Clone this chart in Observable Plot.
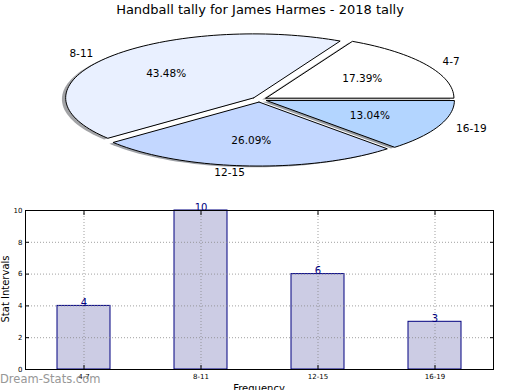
<!DOCTYPE html>
<html><head><meta charset="utf-8">
<script src="https://cdn.jsdelivr.net/npm/d3@7"></script>
<script src="https://cdn.jsdelivr.net/npm/@observablehq/plot@0.6"></script>
<style>
body{margin:0;background:#fff;width:520px;height:390px;position:relative;overflow:hidden;font-family:"DejaVu Sans",sans-serif;color:#000}
#title{position:absolute;top:2px;left:0;width:520px;text-align:center;font-size:13px}
#pie{position:absolute;top:0;left:0}
#bar{position:absolute;top:195px;left:0}
#ylab{position:absolute;left:5px;top:289px;font-size:10px;transform:translate(-50%,-50%) rotate(-90deg);white-space:nowrap}
#xlab{position:absolute;left:259px;top:383px;font-size:10px;transform:translateX(-50%);white-space:nowrap}
#wm{position:absolute;left:0;top:372px;font-size:11.5px;color:#8c8c8c;white-space:nowrap;font-weight:normal;opacity:0.9}
</style></head>
<body>
<div id="pie"></div>
<div id="title">Handball tally for James Harmes - 2018 tally</div>
<div id="bar"></div>
<div id="ylab">Stat Intervals</div>
<div id="xlab">Frequency</div>
<div id="wm">Dream-Stats.com</div>
<script>
const categories = ["4-7", "8-11", "12-15", "16-19"];
const counts = [4, 10, 6, 3];
const sliceColors = ["#ffffff", "#e9f0ff", "#c3d7ff", "#b3d5ff"];
const explode = [0.04, 0.04, 0.04, 0.04];
const yTicks = [0, 2, 4, 6, 8, 10];
const gridTicks = [2, 4, 6, 8];

const total = d3.sum(counts);
// pie geometry in unit-radius coordinates (counterclockwise from east, like matplotlib)
let start = 0;
const slices = categories.map((cat, i) => {
  const a0 = start, a1 = start + counts[i] / total * 2 * Math.PI;
  start = a1;
  const mid = (a0 + a1) / 2;
  const ox = explode[i] * Math.cos(mid), oy = explode[i] * Math.sin(mid);
  const n = Math.max(4, Math.ceil((a1 - a0) / (Math.PI / 90)));
  const pts = [{x: ox, y: oy}];
  for (let k = 0; k <= n; ++k) {
    const a = a0 + (a1 - a0) * k / n;
    pts.push({x: ox + Math.cos(a), y: oy + Math.sin(a)});
  }
  pts.push({x: ox, y: oy});
  return {cat, i, mid, ox, oy, pts, pct: (counts[i] / total * 100).toFixed(2) + "%"};
});

const shadowMarks = slices.map(s => {
  const c = d3.rgb(sliceColors[s.i]);
  const sc = d3.rgb(c.r * 0.3, c.g * 0.3, c.b * 0.3).formatHex();
  return Plot.line(s.pts, {x: d => d.x - 0.02, y: d => d.y - 0.02, fill: sc, fillOpacity: 0.5, stroke: "none"});
});
const wedgeMarks = slices.map(s =>
  Plot.line(s.pts, {x: "x", y: "y", fill: sliceColors[s.i], stroke: "black", strokeWidth: 1, strokeLinejoin: "miter"})
);
const labels = slices.map(s => ({
  cat: s.cat, pct: s.pct,
  lx: s.ox + 1.1 * Math.cos(s.mid), ly: s.oy + 1.1 * Math.sin(s.mid),
  px: s.ox + 0.6 * Math.cos(s.mid), py: s.oy + 0.6 * Math.sin(s.mid)
}));

const pie = Plot.plot({
  width: 520, height: 195,
  margin: 0,
  x: {domain: [-1, 1], range: [71, 447], axis: null},
  y: {domain: [-1, 1], range: [163, 35], axis: null},
  style: {fontFamily: "DejaVu Sans", fontSize: "10.5px", background: "white"},
  marks: [
    ...shadowMarks,
    ...wedgeMarks,
    Plot.text(labels.filter(d => d.lx > 0), {x: "lx", y: "ly", text: "cat", textAnchor: "start", fontSize: 10.5, fill: "black"}),
    Plot.text(labels.filter(d => d.lx <= 0), {x: "lx", y: "ly", text: "cat", textAnchor: "end", fontSize: 10.5, fill: "black"}),
    Plot.text(labels, {x: "px", y: "py", text: "pct", textAnchor: "middle", fontSize: 10.5, fill: "black"})
  ]
});
document.getElementById("pie").appendChild(pie);

const barData = categories.map((cat, i) => ({cat, count: counts[i]}));
const bar = Plot.plot({
  width: 520, height: 195,
  marginLeft: 25, marginRight: 27, marginTop: 15, marginBottom: 21,
  x: {type: "band", domain: categories, paddingInner: 0.55, paddingOuter: 0.275},
  y: {domain: [0, 10]},
  style: {fontFamily: "DejaVu Sans", background: "transparent"},
  marks: [
    Plot.barY(barData, {x: "cat", y: "count", fill: "#cccce4", stroke: "#000080", strokeWidth: 1}),
    Plot.gridY(gridTicks, {stroke: "#888", strokeOpacity: 0.8, strokeDasharray: "1,2"}),
    Plot.gridX({stroke: "#888", strokeOpacity: 0.8, strokeDasharray: "1,2"}),
    Plot.text(barData, {x: "cat", y: "count", text: d => String(d.count), lineAnchor: "bottom", dy: 0, fill: "#000080", fontSize: 10}),
    Plot.frame({stroke: "black", strokeWidth: 1}),
    Plot.axisY(yTicks, {tickSize: 0, tickPadding: 3, fontSize: 7, label: null, fill: "black"}),
    Plot.axisY(yTicks, {tickSize: 4, dx: 4, fill: "none", label: null, stroke: "black"}),
    Plot.axisY(yTicks, {anchor: "right", tickSize: 4, dx: -4, fill: "none", label: null, stroke: "black"}),
    Plot.axisX({tickSize: 0, tickPadding: 5, fontSize: 7, label: null, fill: "black"}),
    Plot.axisX({tickSize: 4, dy: -4, fill: "none", label: null, stroke: "black"}),
    Plot.axisX({anchor: "top", tickSize: 4, dy: 4, fill: "none", label: null, stroke: "black"})
  ]
});
document.getElementById("bar").appendChild(bar);
</script>
</body></html>
